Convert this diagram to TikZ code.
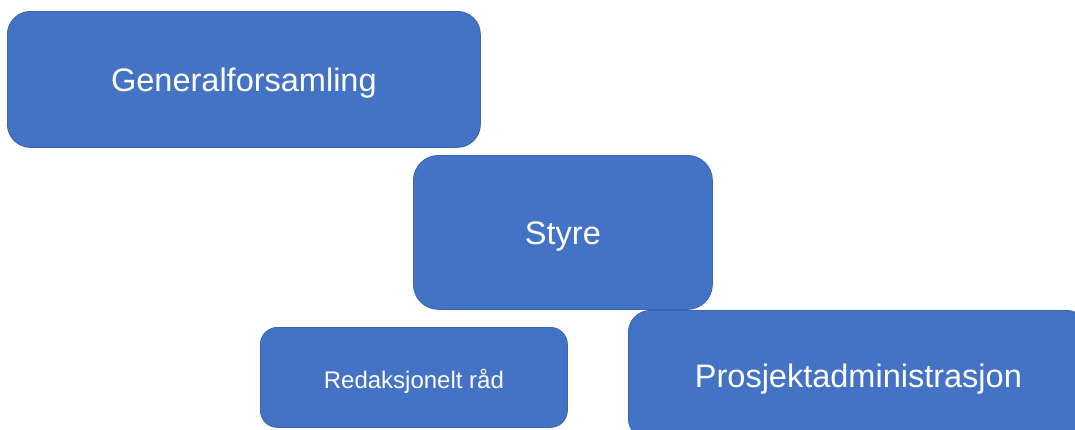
\documentclass[tikz,border=0pt]{standalone}
\usepackage{fontspec}
\setmainfont{Liberation Sans}
\definecolor{boxfill}{HTML}{4472C4}
\definecolor{boxline}{HTML}{3A64AE}
% shift a label down while keeping its box dimensions
\newcommand{\lowerlabel}[1]{\raisebox{-4pt}[\height][\depth]{#1}}
\begin{document}
\begin{tikzpicture}[x=1pt,y=-1pt,
  orgbox/.style={draw=boxline, line width=0.8pt, fill=boxfill, text=white,
    inner sep=0pt, anchor=north west, align=center}]
\useasboundingbox (0,0) rectangle (1075,429);
\clip (0,0) rectangle (1075,429);
% Organisation units, placed by their top-left corners
\node[orgbox, minimum width=473pt, minimum height=136pt, rounded corners=23pt,
  font=\fontsize{32.5}{36}\selectfont] (gf) at (7,11) {\lowerlabel{Generalforsamling}};
\node[orgbox, minimum width=299pt, minimum height=154pt, rounded corners=25pt,
  font=\fontsize{32.5}{36}\selectfont] (styre) at (413,155) {\lowerlabel{Styre}};
\node[orgbox, minimum width=307pt, minimum height=100pt, rounded corners=17pt,
  font=\fontsize{24}{28}\selectfont] (rad) at (260,327) {\lowerlabel{Redaksjonelt råd}};
\node[orgbox, minimum width=460pt, minimum height=130pt, rounded corners=22pt,
  font=\fontsize{32.5}{36}\selectfont] (adm) at (628,310) {\lowerlabel{Prosjektadministrasjon}};
\end{tikzpicture}
\end{document}
